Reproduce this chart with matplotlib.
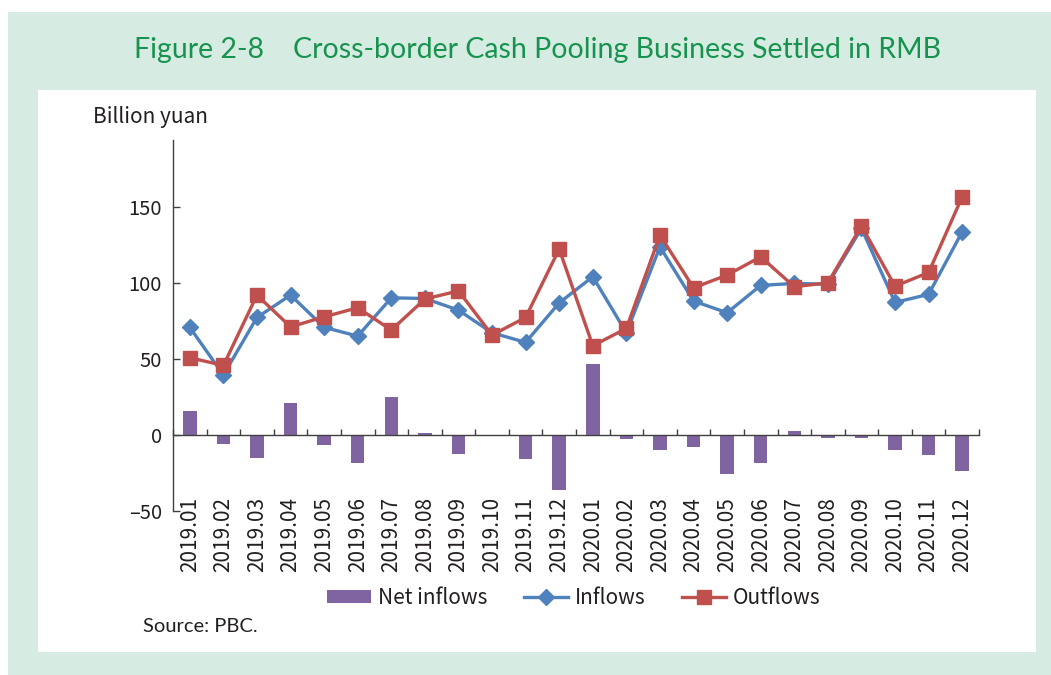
import matplotlib
matplotlib.use("Agg")
import matplotlib.pyplot as plt
from matplotlib.patches import Rectangle, Patch
from matplotlib.lines import Line2D
import numpy as np

categories = ["2019.01", "2019.02", "2019.03", "2019.04", "2019.05", "2019.06",
              "2019.07", "2019.08", "2019.09", "2019.10", "2019.11", "2019.12",
              "2020.01", "2020.02", "2020.03", "2020.04", "2020.05", "2020.06",
              "2020.07", "2020.08", "2020.09", "2020.10", "2020.11", "2020.12"]
net_inflows = [15.6, -6.1, -15.1, 20.9, -6.8, -18.4, 24.8, 0.9, -12.7, 0.0, -15.8, -36.4,
               46.5, -2.6, -9.9, -7.9, -25.9, -18.4, 2.4, -2.0, -2.0, -9.9, -13.4, -23.7]
inflows = [70.7, 39.3, 77.2, 91.9, 70.7, 64.9, 90.1, 89.7, 82.0, 67.1, 60.8, 86.8,
           104.0, 67.1, 123.7, 88.0, 80.3, 98.3, 99.6, 99.1, 135.8, 87.1, 92.4, 133.6]
outflows = [50.7, 45.6, 91.9, 71.0, 77.6, 83.6, 68.9, 89.3, 94.7, 65.6, 77.2, 122.2,
            58.6, 70.0, 131.4, 96.7, 105.1, 117.1, 97.4, 100.0, 137.5, 97.8, 106.8, 156.6]
yticks = [-50, 0, 50, 100, 150]
ytick_labels = ["\u201350", "0", "50", "100", "150"]

W, H = 1051, 675
fig = plt.figure(figsize=(W / 100, H / 100), dpi=100)
fig.patch.set_facecolor("white")

def px_rect(x0, y0, x1, y1, color, z):
    fig.patches.append(Rectangle((x0 / W, 1 - y1 / H), (x1 - x0) / W, (y1 - y0) / H,
                                 transform=fig.transFigure, facecolor=color,
                                 edgecolor="none", zorder=z))

px_rect(8, 12, W, H, "#d6ece2", -10)
px_rect(38, 90, 1036, 652, "white", -9)

label_font = ["Noto Sans CJK SC", "DejaVu Sans"]
title_font = ["Lato", "DejaVu Sans"]

fig.text(537 / W, 1 - 50 / H,
         "Figure 2-8    Cross-border Cash Pooling Business Settled in RMB",
         ha="center", va="center", fontsize=20.5, color="#17934f", family=title_font)

ax = fig.add_axes([173 / W, 1 - 510.7 / H, (979 - 173) / W, (510.7 - 140) / H])
ax.set_facecolor("none")

x = np.arange(len(categories))
purple = "#8064a2"
blue = "#4f81bd"
red = "#c0504d"

ax.bar(x, net_inflows, width=0.4, color=purple, zorder=2)
ax.plot(x, inflows, color=blue, lw=2.4, marker="D", ms=8.5, zorder=3)
ax.plot(x, outflows, color=red, lw=2.4, marker="s", ms=10.5, zorder=4)

ax.set_xlim(-0.5, len(categories) - 0.5)
ax.set_ylim(-50, 194)

for s in ["top", "right"]:
    ax.spines[s].set_visible(False)
ax.spines["left"].set_color("#404040")
ax.spines["left"].set_linewidth(1.0)
ax.spines["bottom"].set_position(("data", 0))
ax.spines["bottom"].set_color("#404040")
ax.spines["bottom"].set_linewidth(1.0)

ax.set_yticks(yticks)
ax.set_yticklabels(ytick_labels, family=label_font, fontsize=14.5, color="#231f20")
ax.tick_params(axis="y", direction="in", length=5, width=1.0, color="#404040", pad=8)

ax.set_xticks(np.arange(-0.5, len(categories) + 0.5, 1.0))
ax.set_xticklabels([])
ax.tick_params(axis="x", direction="in", length=4.5, width=1.0, color="#404040")

for i, c in enumerate(categories):
    ax.text(i, -41, c, rotation=90, ha="center", va="top", fontsize=15,
            family=label_font, color="#231f20")

fig.text(93 / W, 1 - 117 / H, "Billion yuan", ha="left", va="center",
         fontsize=15, family=label_font, color="#231f20")

handles = [Patch(facecolor=purple, edgecolor="none"),
           Line2D([], [], color=blue, lw=2.4, marker="D", ms=8.5),
           Line2D([], [], color=red, lw=2.4, marker="s", ms=10.5)]
leg = fig.legend(handles, ["Net inflows", "Inflows", "Outflows"], loc="center",
                 bbox_to_anchor=(574 / W, 1 - 598 / H), ncol=3, frameon=False,
                 handlelength=2.1, handleheight=0.6, handletextpad=0.34,
                 columnspacing=1.75, prop={"family": label_font, "size": 15})
for t in leg.get_texts():
    t.set_color("#231f20")

fig.text(143 / W, 1 - 627 / H, "Source: PBC.", ha="left", va="center",
         fontsize=14.5, family=title_font, color="#231f20")

fig.savefig("out.png", dpi=100)
